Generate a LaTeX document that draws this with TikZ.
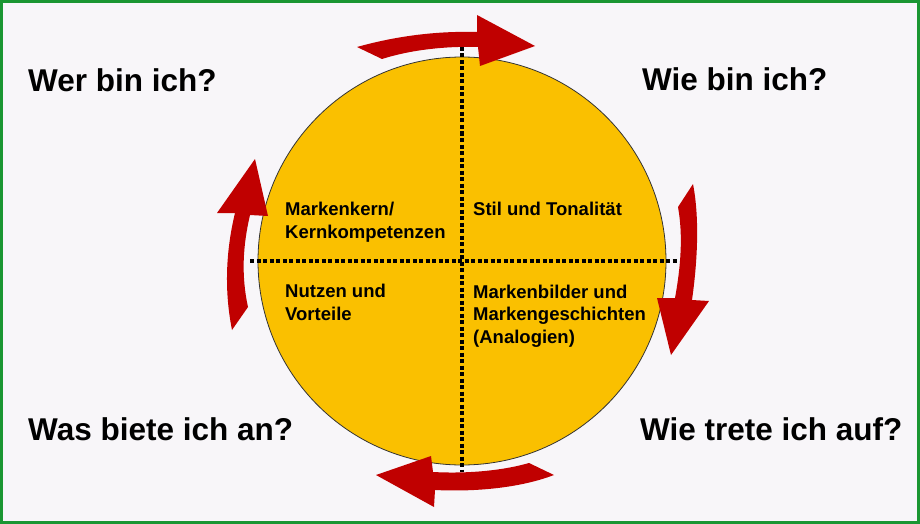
\documentclass[tikz,border=0pt]{standalone}
\usepackage{fontspec}
\setmainfont{Liberation Sans}
\definecolor{kreisgelb}{RGB}{250,192,0}
\definecolor{pfeilrot}{RGB}{192,0,0}
\definecolor{rahmengruen}{RGB}{26,150,50}
\definecolor{hintergrund}{RGB}{248,246,249}
\tikzset{
    frage/.style={anchor=base west, inner sep=0pt,
    	font=\fontsize{31.5}{36}\selectfont\bfseries}
}
\tikzset{
    feld/.style={anchor=base west, inner sep=0pt, align=left,
    	font=\fontsize{18.5}{22.5}\selectfont\bfseries}
}
\tikzset{
    trenner/.style={line width=4pt, dash pattern=on 4pt off 2.5pt}
}
\tikzset{
    pfeil/.style={fill=pfeilrot, draw=none}
}

\begin{document}
\begin{tikzpicture}[x=1pt, y=-1pt]
	\fill[hintergrund] (0,0) rectangle (920,524);
	\draw[rahmengruen, line width=3pt] (1.5,1.5) rectangle (918.5,522.5);
	\useasboundingbox (0,0) rectangle (920,524);

	\node (kreis) [circle, fill=kreisgelb, draw=black!80, line width=0.8pt,
		minimum size=408pt, inner sep=0pt] at (462,261) {};

	\coordinate (oben) at (462,47);
	\coordinate (unten) at (462,472);
	\coordinate (links) at (250,261);
	\coordinate (rechts) at (678,261);
	\draw[trenner] (oben) -- (unten);
	\draw[trenner] (links) -- (rechts);

	\node (wer) [frage] at (28,92) {Wer bin ich?};
	\node (wie) [frage] at (642,91) {Wie bin ich?};
	\node (was) [frage] at (28,440) {Was biete ich an?};
	\node (auf) [frage] at (640,440) {Wie trete ich auf?};

	% base = Grundlinie der letzten Zeile
	\node (kern) [feld] at (285,238) {Markenkern/\\Kernkompetenzen};
	\node (stil) [feld] at (473,215) {Stil und Tonalität};
	\node (nutzen) [feld] at (285,320) {Nutzen und\\Vorteile};
	\node (bilder) [feld] at (473,343) {Markenbilder und\\Markengeschichten\\(Analogien)};

	% Pfeile im Uhrzeigersinn
	\fill[pfeil] (357,47) .. controls (400,35) and (440,31) .. (477,32)
		-- (477,15) -- (535,46) -- (480,66) -- (478,47)
		.. controls (445,46) and (410,50) .. (382,59) -- cycle;
	\fill[pfeil] (693,184) .. controls (700,220) and (697,265) .. (692,300)
		-- (709,301) -- (671,355) -- (657,298) -- (675,298)
		.. controls (681,265) and (683,235) .. (678,207) -- cycle;
	\fill[pfeil] (554,475) .. controls (520,488) and (475,492) .. (435,490)
		-- (434,507) -- (376,475) -- (431,456) -- (433,472)
		.. controls (470,474) and (505,470) .. (529,463) -- cycle;
	\fill[pfeil] (232,330) .. controls (224,290) and (226,250) .. (235,213)
		-- (217,213) -- (255,159) -- (268,216) -- (250,215)
		.. controls (243,245) and (241,275) .. (248,307) -- cycle;
\end{tikzpicture}
\end{document}
